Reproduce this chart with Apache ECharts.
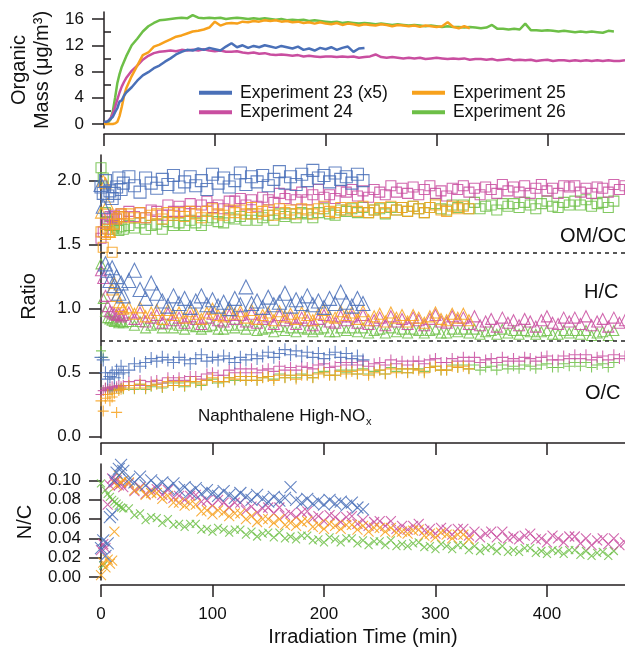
<!DOCTYPE html>
<html><head><meta charset="utf-8">
<script src="https://cdn.jsdelivr.net/npm/echarts@6/dist/echarts.min.js"></script>
<style>html,body{margin:0;padding:0;background:#fff}#c{width:625px;height:649px}</style>
</head><body><div id="c"></div>
<script>
// ---------- DATA ----------
const time = [0,2,4,6,8,10,12,14,16,18,20,
25,30,35,40,45,50,55,60,65,70,
75,80,85,90,95,100,105,110,115,120,
125,130,135,140,145,150,155,160,165,170,
175,180,185,190,195,200,205,210,215,220,
225,230,235,240,245,250,255,260,265,270,
275,280,285,290,295,300,305,310,315,320,
325,330,335,340,345,350,355,360,365,370,
375,380,385,390,395,400,405,410,415,420,
425,430,435,440,445,450,455,460,465,470];

const xTicks = [0,100,200,300,400];
const massTicks = [0,4,8,12,16];
const massMinorTicks = [2,6,10,14];
const ratioTicks = [0,0.5,1.0,1.5,2.0];
const ncTicks = [0,0.02,0.04,0.06,0.08,0.10];
const dividers = [1.44, 0.75];

const legendNames = ['Experiment 23 (x5)','Experiment 24','Experiment 25','Experiment 26'];

// Organic mass (ug/m3)
const mass23 = [0.4,0.3,0.5,0.8,1.1,1.8,2.4,3.4,3.6,4.3,4.8,
5.6,6.6,7.4,7.9,8.5,8.9,9.5,10.0,10.6,11.0,
11.3,11.2,11.5,11.3,11.6,11.4,11.2,11.8,12.3,11.7,
12.0,11.6,11.9,11.7,12.0,11.8,11.6,11.9,11.7,11.5,
11.8,11.3,11.5,11.2,11.6,11.4,11.7,11.3,11.6,11.8,
11.0,11.5,11.6];
const mass24 = [0.2,0.3,0.5,0.9,1.6,2.6,3.7,4.8,5.7,6.4,7.0,
8.1,8.9,9.8,10.4,10.8,11.0,11.1,11.2,11.1,11.3,
11.2,11.3,11.2,11.4,11.2,11.1,11.2,11.0,11.0,11.1,
10.9,10.8,10.9,10.7,10.8,10.6,10.5,10.6,10.5,10.4,
10.5,10.3,10.4,10.3,10.2,10.3,10.3,10.2,10.3,10.2,
10.3,10.1,10.2,10.3,10.6,10.2,10.1,10.2,10.1,10.0,
10.1,10.0,10.1,9.9,10.0,10.1,10.0,9.9,10.0,9.9,
10.0,9.8,9.9,9.9,9.8,9.9,9.7,9.8,9.9,9.7,
9.8,9.7,9.8,9.6,9.7,9.8,9.6,9.7,9.7,9.6,
9.7,9.6,9.7,9.6,9.7,9.6,9.7,9.6,9.6,9.7];
const mass25 = [0.0,0.0,0.0,0.0,0.0,0.1,0.3,1.2,2.6,4.2,5.4,
7.3,8.9,10.5,10.9,11.8,12.1,12.5,12.9,13.3,13.5,
13.8,14.1,14.2,14.4,14.7,15.6,15.0,15.3,15.4,15.3,
15.6,15.5,15.7,15.6,15.8,15.7,15.8,15.6,15.7,15.5,
15.6,15.4,15.5,15.3,15.5,15.3,15.2,15.4,15.1,15.3,
15.2,15.0,15.2,15.1,15.0,15.2,15.1,14.9,15.1,15.0,
14.9,15.0,14.8,15.0,14.9,14.8,14.9,15.5,14.8,14.6,
14.9,14.6];
const mass26 = [0.1,0.1,0.3,0.7,2.0,4.0,6.2,7.6,8.7,9.5,10.3,
12.0,13.0,14.1,14.9,15.4,15.8,15.9,16.0,16.1,16.2,
16.1,16.6,16.2,16.1,16.2,16.1,16.2,16.0,16.1,16.2,
16.1,16.0,16.1,16.0,16.1,16.0,15.9,16.0,15.8,15.9,
15.8,15.9,15.7,15.8,15.7,15.6,15.5,15.6,15.4,15.5,
15.4,15.3,15.4,15.3,15.2,15.3,15.2,15.1,15.2,15.1,
15.0,15.1,15.0,14.9,15.0,14.9,14.8,14.9,14.8,14.8,
14.7,14.8,14.7,14.6,14.7,15.1,14.5,14.5,14.4,14.5,
14.4,15.3,14.3,14.3,14.2,14.3,14.2,14.1,14.2,14.1,
14.0,14.1,14.0,14.1,14.0,13.9,14.2,14.1];

// OM/OC
const omoc23 = [1.95,1.90,2.00,1.88,1.92,1.86,1.90,1.95,2.02,1.93,1.98,
2.03,1.96,1.91,2.02,1.98,1.94,2.01,1.97,2.04,1.95,
1.99,2.03,1.96,2.00,1.93,2.05,1.98,2.02,1.95,2.00,
2.06,1.97,2.03,1.99,2.04,1.96,2.01,2.07,1.98,2.03,
1.97,2.05,2.00,2.08,2.02,2.04,1.99,2.06,2.01,2.03,
1.98,2.05,2.00];
const omoc24 = [1.55,1.60,1.66,1.70,1.72,1.71,1.73,1.70,1.72,1.74,1.72,
1.76,1.72,1.75,1.71,1.77,1.76,1.73,1.81,1.76,1.80,
1.76,1.82,1.76,1.81,1.84,1.79,1.81,1.78,1.84,1.84,
1.86,1.81,1.85,1.80,1.87,1.85,1.83,1.90,1.86,1.89,
1.85,1.91,1.85,1.89,1.93,1.87,1.89,1.86,1.92,1.91,
1.93,1.88,1.92,1.87,1.93,1.91,1.89,1.96,1.91,1.94,
1.90,1.95,1.89,1.93,1.96,1.90,1.92,1.88,1.94,1.93,
1.96,1.91,1.94,1.89,1.95,1.93,1.90,1.97,1.92,1.95,
1.91,1.96,1.90,1.94,1.97,1.92,1.94,1.90,1.96,1.95,
1.96,1.91,1.94,1.90,1.95,1.94,1.91,1.97,1.93,1.96];
const omoc25 = [1.60,1.48,1.58,1.62,1.60,1.44,1.66,1.70,1.72,1.74,1.71,
1.74,1.71,1.75,1.71,1.73,1.74,1.70,1.75,1.73,1.75,
1.72,1.76,1.74,1.71,1.76,1.78,1.74,1.73,1.77,1.75,
1.77,1.74,1.79,1.74,1.76,1.77,1.73,1.78,1.75,1.77,
1.74,1.78,1.77,1.74,1.78,1.80,1.76,1.75,1.79,1.77,
1.79,1.76,1.80,1.75,1.77,1.79,1.75,1.80,1.77,1.79,
1.76,1.80,1.78,1.75,1.79,1.81,1.77,1.76,1.80,1.78,
1.80,1.78];
const omoc26 = [2.10,2.02,1.75,1.68,1.65,1.62,1.65,1.63,1.61,1.64,1.62,
1.65,1.63,1.67,1.62,1.65,1.66,1.62,1.68,1.65,1.67,
1.65,1.69,1.67,1.65,1.69,1.71,1.68,1.67,1.71,1.70,
1.72,1.69,1.74,1.69,1.71,1.73,1.69,1.74,1.72,1.74,
1.71,1.75,1.74,1.71,1.75,1.78,1.74,1.73,1.77,1.76,
1.78,1.75,1.79,1.75,1.77,1.78,1.74,1.79,1.77,1.79,
1.76,1.80,1.78,1.75,1.79,1.82,1.78,1.77,1.81,1.79,
1.81,1.78,1.83,1.78,1.80,1.81,1.77,1.82,1.80,1.82,
1.79,1.83,1.81,1.78,1.82,1.84,1.80,1.79,1.83,1.81,
1.84,1.81,1.85,1.80,1.82,1.83,1.79,1.84];

// H/C
const hc23 = [1.97,1.80,1.35,1.30,1.22,1.32,1.18,1.25,1.12,1.20,1.10,
1.22,1.30,1.15,1.08,1.20,1.12,1.06,1.02,1.10,1.04,
1.08,1.01,1.06,1.10,1.03,1.07,1.02,1.05,1.00,1.08,
1.03,1.17,1.04,1.06,1.01,1.09,1.03,1.05,1.12,1.02,
1.07,1.04,1.10,1.03,1.06,1.01,1.08,1.04,1.13,1.05,
1.02,1.08,1.04];
const hc24 = [1.30,1.24,1.10,1.02,0.98,0.97,0.96,0.95,0.96,0.94,0.95,
0.97,0.92,0.97,0.90,0.93,0.95,0.89,0.96,0.91,0.93,
0.89,0.94,0.92,0.88,0.93,0.96,0.91,0.90,0.95,0.92,
0.95,0.90,0.96,0.89,0.92,0.94,0.88,0.95,0.91,0.93,
0.88,0.93,0.91,0.87,0.92,0.95,0.90,0.89,0.94,0.91,
0.94,0.89,0.95,0.88,0.91,0.93,0.87,0.94,0.90,0.92,
0.88,0.93,0.91,0.87,0.92,0.95,0.90,0.89,0.94,0.91,
0.93,0.88,0.94,0.87,0.90,0.92,0.86,0.93,0.89,0.91,
0.87,0.92,0.90,0.86,0.91,0.94,0.89,0.88,0.93,0.90,
0.93,0.88,0.94,0.87,0.90,0.92,0.86,0.93,0.89,0.91];
const hc25 = [1.75,2.00,1.98,1.82,1.60,1.15,1.20,1.10,1.05,1.02,1.00,
1.01,0.96,1.01,0.94,0.97,0.99,0.92,0.99,0.95,0.97,
0.93,0.98,0.96,0.92,0.97,1.00,0.95,0.94,0.99,0.96,
0.98,0.93,0.99,0.92,0.95,0.97,0.91,0.98,0.94,0.96,
0.92,0.97,0.95,0.91,0.96,0.99,0.94,0.93,0.98,0.95,
0.97,0.92,0.98,0.91,0.94,0.96,0.90,0.97,0.93,0.95,
0.90,0.95,0.93,0.89,0.94,0.97,0.92,0.91,0.96,0.93,
0.96,0.91];
const hc26 = [1.35,1.08,0.98,0.93,0.92,0.91,0.90,0.91,0.89,0.90,0.89,
0.90,0.87,0.90,0.85,0.87,0.88,0.85,0.88,0.85,0.87,
0.84,0.87,0.86,0.84,0.86,0.87,0.84,0.84,0.87,0.85,
0.87,0.84,0.87,0.83,0.84,0.85,0.82,0.86,0.83,0.85,
0.82,0.85,0.84,0.82,0.84,0.85,0.82,0.82,0.85,0.83,
0.85,0.82,0.85,0.81,0.83,0.84,0.81,0.85,0.82,0.84,
0.81,0.84,0.83,0.81,0.83,0.84,0.81,0.81,0.84,0.82,
0.84,0.81,0.84,0.80,0.82,0.83,0.80,0.84,0.81,0.83,
0.80,0.83,0.82,0.80,0.82,0.83,0.80,0.80,0.83,0.81,
0.83,0.80,0.83,0.79,0.81,0.82,0.79,0.83];

// O/C
const oc23 = [0.62,0.60,0.50,0.45,0.47,0.50,0.46,0.52,0.49,0.55,0.50,
0.52,0.57,0.55,0.58,0.61,0.59,0.62,0.60,0.58,0.62,
0.60,0.57,0.61,0.64,0.59,0.62,0.60,0.63,0.61,0.58,
0.62,0.60,0.64,0.61,0.63,0.66,0.62,0.65,0.68,0.64,
0.67,0.63,0.66,0.62,0.65,0.61,0.64,0.66,0.62,0.65,
0.61,0.63,0.60];
const oc24 = [0.33,0.36,0.38,0.37,0.38,0.39,0.38,0.39,0.40,0.39,0.40,
0.43,0.40,0.44,0.40,0.43,0.44,0.42,0.46,0.44,0.46,
0.44,0.47,0.47,0.45,0.49,0.50,0.48,0.48,0.52,0.50,
0.53,0.50,0.53,0.50,0.52,0.53,0.51,0.55,0.52,0.54,
0.52,0.55,0.54,0.53,0.56,0.57,0.54,0.55,0.58,0.56,
0.58,0.56,0.59,0.55,0.57,0.58,0.56,0.60,0.57,0.59,
0.56,0.59,0.59,0.57,0.60,0.61,0.58,0.58,0.61,0.59,
0.62,0.59,0.62,0.58,0.60,0.61,0.58,0.62,0.59,0.61,
0.59,0.62,0.61,0.59,0.62,0.63,0.60,0.60,0.63,0.61,
0.64,0.61,0.64,0.60,0.62,0.63,0.60,0.64,0.61,0.63];
const oc25 = [0.28,0.20,0.30,0.33,0.28,0.31,0.34,0.19,0.36,0.37,0.38,
0.40,0.38,0.41,0.38,0.40,0.41,0.39,0.43,0.40,0.43,
0.40,0.43,0.43,0.41,0.44,0.46,0.43,0.43,0.46,0.45,
0.47,0.44,0.47,0.44,0.46,0.47,0.44,0.48,0.46,0.48,
0.45,0.48,0.48,0.46,0.49,0.50,0.48,0.48,0.51,0.49,
0.51,0.49,0.52,0.48,0.50,0.52,0.49,0.53,0.50,0.53,
0.50,0.53,0.52,0.50,0.54,0.55,0.52,0.52,0.55,0.54,
0.55,0.53];
const oc26 = [0.67,0.62,0.38,0.36,0.37,0.36,0.37,0.38,0.37,0.38,0.37,
0.40,0.37,0.41,0.37,0.39,0.41,0.38,0.42,0.40,0.42,
0.39,0.43,0.42,0.40,0.44,0.45,0.42,0.43,0.46,0.44,
0.47,0.44,0.47,0.44,0.46,0.47,0.45,0.49,0.46,0.48,
0.46,0.49,0.48,0.46,0.50,0.51,0.48,0.48,0.52,0.50,
0.52,0.49,0.53,0.49,0.51,0.52,0.49,0.54,0.51,0.53,
0.50,0.53,0.53,0.51,0.54,0.55,0.52,0.52,0.56,0.54,
0.56,0.53,0.56,0.52,0.54,0.55,0.52,0.56,0.53,0.55,
0.53,0.56,0.55,0.53,0.56,0.57,0.54,0.54,0.57,0.55,
0.58,0.55,0.58,0.54,0.56,0.57,0.54,0.58];

// N/C
const nc23 = [0.030,0.038,0.022,0.035,0.062,0.065,0.100,0.108,0.112,0.116,0.110,
0.101,0.098,0.104,0.095,0.100,0.094,0.098,0.092,0.097,0.090,
0.093,0.088,0.092,0.086,0.090,0.087,0.084,0.089,0.085,0.082,
0.087,0.083,0.080,0.085,0.081,0.078,0.083,0.079,0.082,0.093,
0.080,0.077,0.081,0.076,0.079,0.075,0.080,0.076,0.078,0.074,
0.077,0.072,0.070];
const nc24 = [0.028,0.034,0.030,0.075,0.095,0.102,0.098,0.100,0.095,0.097,0.093,
0.097,0.089,0.093,0.086,0.090,0.091,0.085,0.090,0.082,0.084,
0.080,0.084,0.085,0.078,0.079,0.074,0.080,0.077,0.072,0.077,
0.077,0.069,0.073,0.067,0.071,0.072,0.066,0.072,0.064,0.066,
0.062,0.067,0.068,0.061,0.063,0.058,0.064,0.062,0.057,0.062,
0.063,0.055,0.059,0.053,0.057,0.058,0.053,0.058,0.050,0.053,
0.049,0.053,0.055,0.048,0.050,0.045,0.051,0.049,0.044,0.050,
0.050,0.043,0.047,0.041,0.045,0.047,0.041,0.047,0.040,0.042,
0.039,0.043,0.045,0.039,0.040,0.036,0.043,0.040,0.036,0.042,
0.042,0.035,0.040,0.033,0.038,0.040,0.034,0.040,0.033,0.036];
const nc25 = [0.002,0.015,0.010,0.018,0.014,0.017,0.047,0.095,0.105,0.098,0.100,
0.098,0.090,0.092,0.085,0.087,0.087,0.081,0.084,0.077,0.077,
0.074,0.076,0.075,0.068,0.069,0.065,0.069,0.067,0.063,0.066,
0.066,0.060,0.063,0.057,0.060,0.060,0.056,0.060,0.054,0.056,
0.053,0.057,0.058,0.052,0.054,0.050,0.055,0.053,0.050,0.054,
0.054,0.049,0.053,0.047,0.051,0.051,0.047,0.051,0.046,0.047,
0.045,0.048,0.049,0.043,0.045,0.041,0.046,0.044,0.040,0.044,
0.044,0.039];
const nc26 = [0.097,0.012,0.090,0.086,0.083,0.080,0.078,0.076,0.074,0.072,0.071,
0.071,0.064,0.066,0.059,0.062,0.061,0.056,0.060,0.054,0.055,
0.052,0.055,0.055,0.049,0.050,0.047,0.051,0.049,0.046,0.049,
0.049,0.044,0.047,0.042,0.045,0.046,0.041,0.046,0.040,0.042,
0.039,0.043,0.043,0.038,0.039,0.036,0.041,0.039,0.036,0.040,
0.040,0.035,0.038,0.033,0.037,0.037,0.033,0.038,0.032,0.034,
0.032,0.035,0.036,0.031,0.032,0.029,0.034,0.032,0.029,0.033,
0.033,0.028,0.032,0.027,0.030,0.031,0.027,0.032,0.026,0.028,
0.026,0.030,0.030,0.025,0.027,0.024,0.028,0.027,0.024,0.028,
0.028,0.023,0.027,0.022,0.025,0.026,0.022,0.027];

// ---------- STYLE / BUILD ----------
const FONT = '"Liberation Sans", Arial, Helvetica, sans-serif';
const AX = '#231f20';
const C = {e23:'#4a70b8', e24:'#c94ea0', e25:'#f7a11c', e26:'#6dbf47'};
const pairs = v => v.map((y, i) => [time[i], y]);

const exps = [
  {name: legendNames[3], col: C.e26, mass: mass26, omoc: omoc26, hc: hc26, oc: oc26, nc: nc26, sz: [10, 10, 10, 8]},
  {name: legendNames[1], col: C.e24, mass: mass24, omoc: omoc24, hc: hc24, oc: oc24, nc: nc24, sz: [10, 11, 11, 10]},
  {name: legendNames[2], col: C.e25, mass: mass25, omoc: omoc25, hc: hc25, oc: oc25, nc: nc25, sz: [10, 11, 11, 10]},
  {name: legendNames[0], col: C.e23, mass: mass23, omoc: omoc23, hc: hc23, oc: oc23, nc: nc23, sz: [12, 14, 13, 12]}
];

const SYM_PLUS = 'path://M5,0L5,10M0,5L10,5';
const SYM_X = 'path://M0,0L10,10M10,0L0,10';

const series = [];
exps.forEach(e => {
  series.push({
    type: 'line', name: e.name, xAxisIndex: 0, yAxisIndex: 0,
    data: pairs(e.mass), showSymbol: false, smooth: false,
    lineStyle: {color: e.col, width: 2.5}, itemStyle: {color: e.col}, z: 3
  });
});
const scat = (name, data, sym, size, col, xi, yi) => ({
  type: 'scatter', name, xAxisIndex: xi, yAxisIndex: yi, data,
  symbol: sym, symbolSize: size, clip: false,
  itemStyle: {color: 'rgba(0,0,0,0)', borderColor: col, borderWidth: 1.1, opacity: 0.85},
  emphasis: {disabled: true}
});
exps.forEach(e => {
  series.push(scat('OM/OC ' + e.name, pairs(e.omoc), 'rect', e.sz[0], e.col, 1, 1));
  series.push(scat('H/C ' + e.name, pairs(e.hc), 'triangle', e.sz[1], e.col, 1, 1));
  series.push(scat('O/C ' + e.name, pairs(e.oc), SYM_PLUS, e.sz[2], e.col, 1, 1));
  series.push(scat('N/C ' + e.name, pairs(e.nc), SYM_X, e.sz[3], e.col, 2, 2));
});
series[4].markLine = {
  silent: true, symbol: 'none', label: {show: false},
  lineStyle: {color: '#222', width: 1.5, type: [4, 4]},
  data: dividers.map(v => ({yAxis: v}))
};

const xAx = (gi, off, showLabel) => ({
  type: 'value', gridIndex: gi, min: 0, max: 470, offset: off,
  axisLine: {show: true, onZero: false, lineStyle: {color: AX, width: 1.5}},
  axisTick: {show: true, inside: false, length: 12, customValues: xTicks, lineStyle: {color: AX, width: 1.5}},
  axisLabel: {show: showLabel, customValues: xTicks, margin: 21, color: '#111', fontSize: 17, fontFamily: FONT},
  splitLine: {show: false},
  name: showLabel ? 'Irradiation Time (min)' : '', nameLocation: 'middle', nameGap: 42,
  nameTextStyle: {fontSize: 20, color: '#111', fontFamily: FONT}
});
const yAx = (gi, min, max, ticks, fmt, name, gap) => ({
  type: 'value', gridIndex: gi, min, max,
  axisLine: {show: true, onZero: false, lineStyle: {color: AX, width: 1.5}},
  axisTick: {show: true, inside: false, length: 12, customValues: ticks, lineStyle: {color: AX, width: 1.5}},
  axisLabel: {customValues: ticks, margin: 20, color: '#111', fontSize: 17, fontFamily: FONT, formatter: fmt},
  splitLine: {show: false},
  name, nameLocation: 'middle', nameGap: gap,
  nameTextStyle: {fontSize: 20, color: '#111', fontFamily: FONT, lineHeight: 23}
});

const yAxes = [
  yAx(0, -0.61, 17.07, massTicks, v => String(v), 'Organic\nMass (μg/m³)', 50),
  yAx(1, -0.01, 2.2, ratioTicks, v => v.toFixed(1), 'Ratio', 60),
  yAx(2, -0.003, 0.117, ncTicks, v => v.toFixed(2), 'N/C', 60),
  {
    type: 'value', gridIndex: 0, min: -0.61, max: 17.07,
    axisLine: {show: false},
    axisTick: {show: true, inside: false, length: 7, customValues: massMinorTicks, lineStyle: {color: AX, width: 1.5}},
    axisLabel: {show: false}, splitLine: {show: false}
  }
];

const legendCommon = {
  orient: 'vertical', itemWidth: 33, itemHeight: 4, itemGap: 0, icon: 'rect', padding: 0,
  selectedMode: false,
  textStyle: {fontSize: 17.5, color: '#111', fontFamily: FONT, lineHeight: 19.5, padding: [0, 0, 0, 3]}
};

const txt = (x, y, t, size) => ({
  type: 'text', x, y, silent: true,
  style: {text: t, fill: '#111', font: size + 'px ' + FONT, verticalAlign: 'middle'}
});

const option = {
  animation: false,
  backgroundColor: '#fff',
  grid: [
    {left: 101, right: 0, top: 12, height: 116},
    {left: 101, right: 0, top: 155, height: 283},
    {left: 101, right: 0, top: 464, height: 116}
  ],
  xAxis: [xAx(0, 6, false), xAx(1, 5, false), xAx(2, 5, true)],
  yAxis: yAxes,
  legend: [
    Object.assign({}, legendCommon, {left: 199, top: 83, data: [legendNames[0], legendNames[1]]}),
    Object.assign({}, legendCommon, {left: 412, top: 83, data: [legendNames[2], legendNames[3]]})
  ],
  graphic: [
    txt(560, 236, 'OM/OC', 20),
    txt(584, 292, 'H/C', 20),
    txt(585, 393, 'O/C', 20),
    txt(198, 416, 'Naphthalene High-NO', 17),
    txt(366, 422, 'x', 11)
  ],
  series
};

const chart = echarts.init(document.getElementById('c'), null, {renderer: 'canvas'});
chart.setOption(option);
</script>
</body></html>
